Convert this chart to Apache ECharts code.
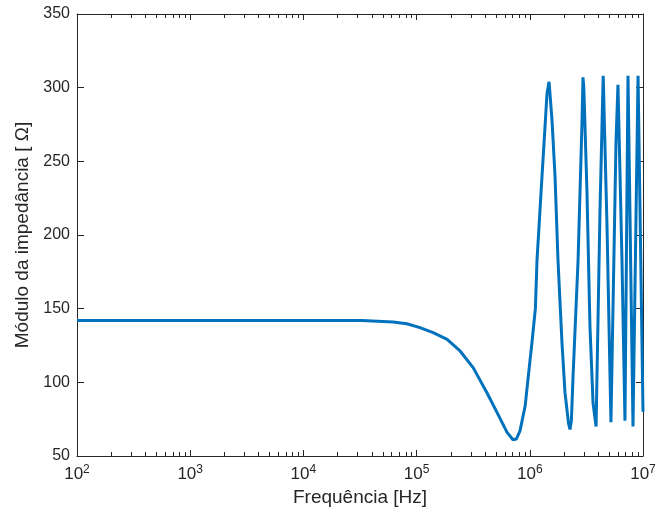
<!DOCTYPE html>
<html><head><meta charset="utf-8">
<script src="https://cdn.jsdelivr.net/npm/echarts@6/dist/echarts.min.js"></script>
<style>html,body{margin:0;padding:0;background:#fff}#c{width:665px;height:517px}</style>
</head><body><div id="c"></div>
<script>
// Frequency samples (Hz) and impedance magnitude (Ohm)
const freqHz = [100, 1000, 10000, 33000, 34000, 62000, 82000, 107000, 140000, 186000,
  242000, 316000, 417000, 513000, 630000, 710000, 760000, 819000, 910000, 1000000,
  1045000, 1120000, 1158000, 1282000, 1362000, 1419000, 1480000, 1530000, 1571000, 1670000,
  1774000, 1924000, 2046000, 2200000, 2265000, 2330000, 2410000, 2670000, 2890000, 2950000,
  3000000, 3200000, 3400000, 3620000, 3850000, 4170000, 4450000, 4810000, 5210000, 5770000,
  6010000, 6520000, 6930000, 7370000, 8160000, 9040000, 10000000];
const impedanceOhm = [142, 142, 142, 142, 141, 141, 139.8, 137.1, 133.7, 129.2,
  121.3, 110, 93.1, 79.6, 66, 61, 61.5, 67, 84, 113.6,
  127, 150, 183, 240, 273, 296, 304, 304, 278, 240,
  183, 127, 93, 72, 68, 74, 104, 183, 276, 307,
  300, 229, 138, 86, 70, 217, 308, 206, 73, 262,
  302, 183, 74, 308, 70, 308, 80];
const xMin = 100, xMax = 10000000;
const yTicks = [50, 100, 150, 200, 250, 300, 350];
const xLabel = 'Frequência [Hz]';
const yLabel = 'Módulo da impedância [ Ω]';

const FONT = '"Liberation Sans", Arial, sans-serif';
const AX = '#262626';
const chart = echarts.init(document.getElementById('c'));
const xAxisBase = {
  type: 'log', logBase: 10, min: xMin, max: xMax,
  axisLine: { show: true, lineStyle: { color: AX, width: 1 } },
  axisTick: { show: true, inside: true, length: 6, lineStyle: { color: AX } },
  splitLine: { show: false }, minorTick: { show: false }
};
const yAxisBase = {
  type: 'value', min: yTicks[0], max: yTicks[yTicks.length - 1], interval: 50,
  axisLine: { show: true, lineStyle: { color: AX, width: 1 } },
  axisTick: { show: true, inside: true, length: 7, lineStyle: { color: AX } },
  splitLine: { show: false }
};
chart.setOption({
  animation: false,
  backgroundColor: '#fff',
  grid: { left: 77, right: 22, top: 14, bottom: 61, containLabel: false },
  xAxis: [
    Object.assign({}, xAxisBase, {
      position: 'bottom',
      name: xLabel, nameLocation: 'middle', nameGap: 32,
      nameTextStyle: { fontFamily: FONT, fontSize: 19, color: AX },
      axisLabel: {
        margin: 8, color: AX, fontFamily: FONT,
        formatter: v => '{b|10}{s|' + Math.round(Math.log10(v)) + '}',
        rich: {
          b: { fontSize: 17, fontFamily: FONT, color: AX, lineHeight: 20 },
          s: { fontSize: 12, fontFamily: FONT, color: AX, verticalAlign: 'top', lineHeight: 12 }
        }
      }
    }),
    Object.assign({}, xAxisBase, { position: 'top', axisLabel: { show: false } })
  ],
  yAxis: [
    Object.assign({}, yAxisBase, {
      position: 'left',
      name: yLabel, nameLocation: 'middle', nameGap: 42,
      nameTextStyle: { fontFamily: FONT, fontSize: 19, color: AX },
      axisLabel: { margin: 7, fontFamily: FONT, fontSize: 16, color: AX }
    }),
    Object.assign({}, yAxisBase, { position: 'right', axisLabel: { show: false } })
  ],
  series: [{
    type: 'line', xAxisIndex: 0, yAxisIndex: 0,
    data: freqHz.map((f, i) => [f, impedanceOhm[i]]),
    showSymbol: false, symbol: 'none',
    lineStyle: { color: '#0072BD', width: 3 },
    itemStyle: { color: '#0072BD' }
  }]
});

// minor log ticks (2..9 per decade) on bottom and top axes
const g = [];
const yb = chart.convertToPixel({ yAxisIndex: 0 }, yTicks[0]);
const yt = chart.convertToPixel({ yAxisIndex: 0 }, yTicks[yTicks.length - 1]);
for (let d = xMin; d < xMax; d *= 10) {
  for (let k = 2; k <= 9; k++) {
    const x = Math.round(chart.convertToPixel({ xAxisIndex: 0 }, d * k)) + 0.5;
    g.push({ type: 'line', shape: { x1: x, y1: yb, x2: x, y2: yb - 4 }, style: { stroke: AX, lineWidth: 1 }, silent: true });
    g.push({ type: 'line', shape: { x1: x, y1: yt, x2: x, y2: yt + 4 }, style: { stroke: AX, lineWidth: 1 }, silent: true });
  }
}
chart.setOption({ graphic: g });
</script>
</body></html>
